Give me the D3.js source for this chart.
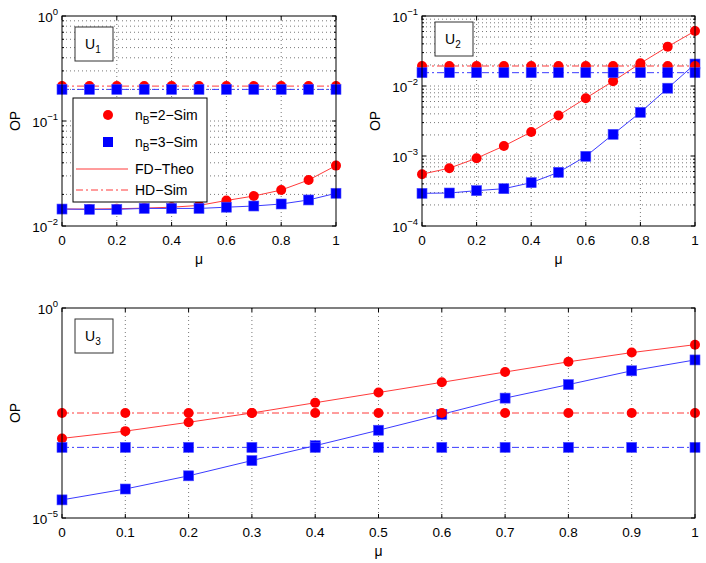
<!DOCTYPE html>
<html>
<head>
<meta charset="utf-8">
<script src="https://cdn.jsdelivr.net/npm/d3@7"></script>
<style>
  body { margin: 0; background: #fff; }
  svg { font-family: "Liberation Sans", Arial, sans-serif; }
</style>
</head>
<body>
<div id="chart"></div>
<script>
// values
const mu = [0, 0.1, 0.2, 0.3, 0.4, 0.5, 0.6, 0.7, 0.8, 0.9, 1];

// U1
const u1FD2 = [0.0145, 0.0145, 0.0146, 0.0148, 0.0151, 0.0157, 0.0175, 0.0193, 0.022, 0.0274, 0.0376];
const u1FD3 = [0.0145, 0.0144, 0.0144, 0.0147, 0.0147, 0.0147, 0.0151, 0.0155, 0.0162, 0.0177, 0.0205];
const u1HD2 = [0.215, 0.215, 0.215, 0.215, 0.215, 0.215, 0.215, 0.215, 0.215, 0.215, 0.215];
const u1HD3 = [0.2, 0.2, 0.2, 0.2, 0.2, 0.2, 0.2, 0.2, 0.2, 0.2, 0.2];

// U2
const u2FD2 = [5.5e-4, 6.7e-4, 9.3e-4, 1.39e-3, 2.2e-3, 3.8e-3, 6.7e-3, 0.0117, 0.0211, 0.0365, 0.061];
const u2FD3 = [2.93e-4, 2.96e-4, 3.2e-4, 3.41e-4, 4.16e-4, 5.85e-4, 9.9e-4, 2.04e-3, 4.2e-3, 9.3e-3, 0.0206];
const u2HD2 = [0.0193, 0.0193, 0.0193, 0.0193, 0.0193, 0.0193, 0.0193, 0.0193, 0.0193, 0.0193, 0.0193];
const u2HD3 = [0.0155, 0.0155, 0.0155, 0.0155, 0.0155, 0.0155, 0.0155, 0.0155, 0.0155, 0.0155, 0.0155];

// U3
const u3FD2 = [7.85e-4, 1.17e-3, 1.9e-3, 3.16e-3, 5.55e-3, 9.7e-3, 0.017, 0.0299, 0.0523, 0.0868, 0.134];
const u3FD3 = [2.7e-5, 4.9e-5, 1.01e-4, 2.33e-4, 5.27e-4, 1.23e-3, 2.94e-3, 7.15e-3, 0.015, 0.032, 0.058];
const u3HD2 = [3.16e-3, 3.16e-3, 3.16e-3, 3.16e-3, 3.16e-3, 3.16e-3, 3.16e-3, 3.16e-3, 3.16e-3, 3.16e-3, 3.16e-3];
const u3HD3 = [4.8e-4, 4.8e-4, 4.8e-4, 4.8e-4, 4.8e-4, 4.8e-4, 4.8e-4, 4.8e-4, 4.8e-4, 4.8e-4, 4.8e-4];

// tick labels
const xTicksTop = [0, 0.2, 0.4, 0.6, 0.8, 1];
const xTicksBottom = [0, 0.1, 0.2, 0.3, 0.4, 0.5, 0.6, 0.7, 0.8, 0.9, 1];
const u1Exp = [-2, -1, 0];
const u2Exp = [-4, -3, -2, -1];
const u3Exp = [-5, 0];

const legendLabels = ["=2\u2212Sim", "=3\u2212Sim", "FD\u2212Theo", "HD\u2212Sim"];

const w = 706, h = 563;
const RED = "#ff0000", BLUE = "#0000ff";
const RED_LINE = "#ff3b3b", BLUE_LINE = "#3b3bff";
const dashDot = "7,3,2,3";

const svg = d3.select("#chart").append("svg")
  .attr("width", w).attr("height", h);

const panels = [
  { name: "1", box: [62, 336, 16, 226], dom: [1e-2, 1], exps: u1Exp, xt: xTicksTop, minor: true,
    fd2: u1FD2, fd3: u1FD3, hd2: u1HD2, hd3: u1HD3, tag: [75, 27] },
  { name: "2", box: [422, 695, 16, 226], dom: [1e-4, 1e-1], exps: u2Exp, xt: xTicksTop, minor: true,
    fd2: u2FD2, fd3: u2FD3, hd2: u2HD2, hd3: u2HD3, tag: [435, 22] },
  { name: "3", box: [62, 695, 308, 518], dom: [1e-5, 1], exps: u3Exp, xt: xTicksBottom, minor: false,
    fd2: u3FD2, fd3: u3FD3, hd2: u3HD2, hd3: u3HD3, tag: [75, 319] }
];

function fmtX(d) {
  if (d === 0) return "0";
  if (d === 1) return "1";
  return d.toFixed(1);
}

panels.forEach(p => {
  const [x0, x1, y0, y1] = p.box;
  const x = d3.scaleLinear().domain([0, 1]).range([x0, x1]);
  const y = d3.scaleLog().domain(p.dom).range([y1, y0]);
  const g = svg.append("g");

  // minor log values
  const minorVals = [];
  if (p.minor) {
    for (let e = Math.log10(p.dom[0]); e < Math.log10(p.dom[1]); e++) {
      for (let k = 2; k <= 9; k++) minorVals.push(k * Math.pow(10, e));
    }
  }
  const majorVals = p.exps.map(e => Math.pow(10, e));

  // grid
  const grid = g.append("g").attr("stroke", "#555").attr("stroke-width", 0.8)
    .attr("stroke-dasharray", "1,3");
  grid.selectAll(".gx").data(p.xt.slice(1, -1)).enter().append("line")
    .attr("x1", d => x(d)).attr("x2", d => x(d))
    .attr("y1", y0).attr("y2", y1);
  grid.selectAll(".gy").data(minorVals.concat(majorVals.slice(1, -1))).enter().append("line")
    .attr("x1", x0).attr("x2", x1)
    .attr("y1", d => y(d)).attr("y2", d => y(d));

  // ticks (inward, all sides)
  const tk = g.append("g").attr("stroke", "#000").attr("stroke-width", 1);
  p.xt.forEach(d => {
    tk.append("line").attr("x1", x(d)).attr("x2", x(d)).attr("y1", y1).attr("y2", y1 - 4);
    tk.append("line").attr("x1", x(d)).attr("x2", x(d)).attr("y1", y0).attr("y2", y0 + 4);
  });
  majorVals.forEach(d => {
    tk.append("line").attr("x1", x0).attr("x2", x0 + 4).attr("y1", y(d)).attr("y2", y(d));
    tk.append("line").attr("x1", x1).attr("x2", x1 - 4).attr("y1", y(d)).attr("y2", y(d));
  });
  minorVals.forEach(d => {
    tk.append("line").attr("x1", x0).attr("x2", x0 + 2).attr("y1", y(d)).attr("y2", y(d));
    tk.append("line").attr("x1", x1).attr("x2", x1 - 2).attr("y1", y(d)).attr("y2", y(d));
  });

  // series: FD lines (solid) and HD lines (dash-dot)
  const line = d3.line().x((d, i) => x(mu[i])).y(d => y(d));
  const series = [
    { vals: p.fd2, color: RED, lc: RED_LINE, dash: null, mk: "c" },
    { vals: p.fd3, color: BLUE, lc: BLUE_LINE, dash: null, mk: "s" },
    { vals: p.hd2, color: RED, lc: RED_LINE, dash: dashDot, mk: "c" },
    { vals: p.hd3, color: BLUE, lc: BLUE_LINE, dash: dashDot, mk: "s" }
  ];
  series.forEach(s => {
    g.append("path").datum(s.vals)
      .attr("d", line)
      .attr("fill", "none")
      .attr("stroke", s.lc)
      .attr("stroke-width", 1)
      .attr("stroke-dasharray", s.dash);
    if (s.mk === "c") {
      g.selectAll(null).data(s.vals).enter().append("circle")
        .attr("cx", (d, i) => x(mu[i])).attr("cy", d => y(d)).attr("r", 5)
        .attr("fill", s.color);
    } else {
      g.selectAll(null).data(s.vals).enter().append("rect")
        .attr("x", (d, i) => x(mu[i]) - 5).attr("y", d => y(d) - 5)
        .attr("width", 10).attr("height", 10)
        .attr("fill", s.color).attr("stroke", "#4d4dff").attr("stroke-width", 0.6);
    }
  });

  // frame
  g.append("rect").attr("x", x0).attr("y", y0)
    .attr("width", x1 - x0).attr("height", y1 - y0)
    .attr("fill", "none").attr("stroke", "#000").attr("stroke-width", 1);

  // x tick labels
  g.selectAll(".xl").data(p.xt).enter().append("text")
    .attr("x", d => x(d)).attr("y", y1 + 19)
    .attr("text-anchor", "middle").attr("font-size", 13.5)
    .text(fmtX);

  // y tick labels 10^e
  p.exps.forEach(e => {
    const t = g.append("text").attr("x", x0 - 4).attr("y", y(Math.pow(10, e)) + 6)
      .attr("text-anchor", "end").attr("font-size", 13.5);
    t.append("tspan").text("10");
    t.append("tspan").attr("dy", -7).attr("font-size", 9.5)
      .text(e === 0 ? "0" : "\u2212" + Math.abs(e));
  });

  // axis labels
  g.append("text").attr("transform", `translate(${x0 - 42},${(y0 + y1) / 2}) rotate(-90)`)
    .attr("text-anchor", "middle").attr("font-size", 14).text("OP");
  g.append("text").attr("x", (x0 + x1) / 2).attr("y", y1 + 38)
    .attr("text-anchor", "middle").attr("font-size", 14).text("\u03bc");

  // panel tag U_n
  const [tx, ty] = p.tag;
  g.append("rect").attr("x", tx).attr("y", ty).attr("width", 38).attr("height", 34)
    .attr("fill", "#fff").attr("stroke", "#333").attr("stroke-width", 1);
  const tt = g.append("text").attr("x", tx + 10).attr("y", ty + 22).attr("font-size", 14);
  tt.append("tspan").text("U");
  tt.append("tspan").attr("dy", 4).attr("font-size", 10).text(p.name);

  // legend in the first panel
  if (p.name === "1") {
    const lg = g.append("g");
    lg.append("rect").attr("x", 73).attr("y", 98).attr("width", 134).attr("height", 104)
      .attr("fill", "#fff").attr("stroke", "#000").attr("stroke-width", 1);
    const rows = [115, 142, 169, 190];
    lg.append("circle").attr("cx", 108).attr("cy", rows[0]).attr("r", 5).attr("fill", RED);
    lg.append("rect").attr("x", 103).attr("y", rows[1] - 5).attr("width", 10).attr("height", 10)
      .attr("fill", BLUE);
    lg.append("line").attr("x1", 76).attr("x2", 128).attr("y1", rows[2]).attr("y2", rows[2])
      .attr("stroke", RED_LINE).attr("stroke-width", 1);
    lg.append("line").attr("x1", 76).attr("x2", 128).attr("y1", rows[3]).attr("y2", rows[3])
      .attr("stroke", RED_LINE).attr("stroke-width", 1).attr("stroke-dasharray", dashDot);
    legendLabels.forEach((lab, i) => {
      const t = lg.append("text").attr("x", 135).attr("y", rows[i] + 5).attr("font-size", 14);
      if (i < 2) {
        t.append("tspan").text("n");
        t.append("tspan").attr("dy", 4).attr("font-size", 10).text("B");
        t.append("tspan").attr("dy", -4).text(lab);
      } else {
        t.text(lab);
      }
    });
  }
});
</script>
</body>
</html>
